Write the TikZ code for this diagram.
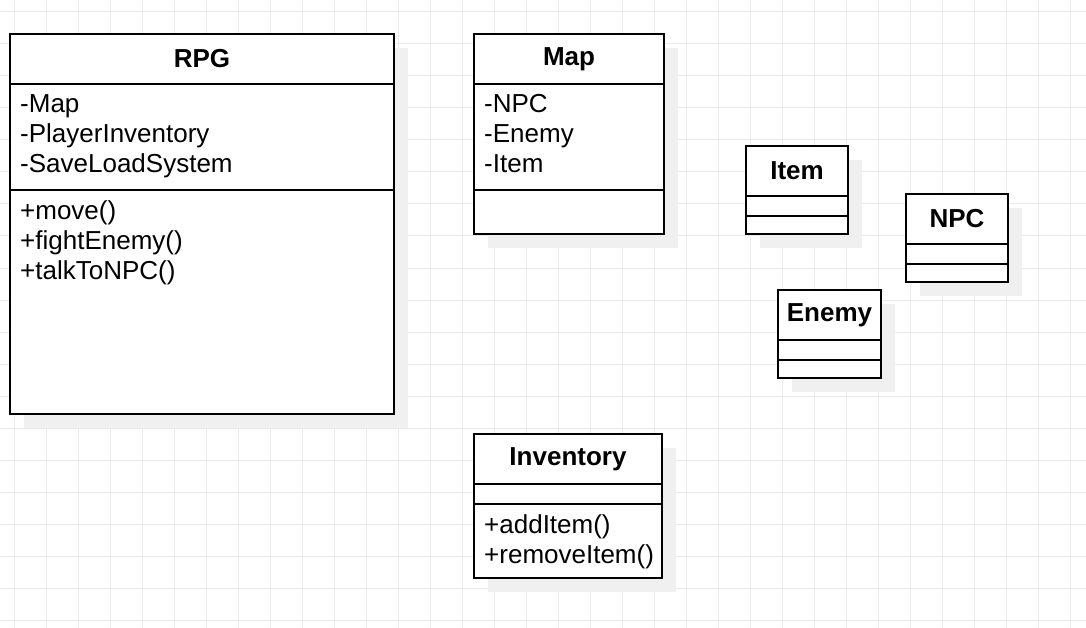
\documentclass[tikz,border=0pt]{standalone}
\usepackage{fontspec}
\setmainfont{Liberation Sans}
\usetikzlibrary{positioning,shadows}

\tikzset{
  gridline/.style={draw=gray!16, line width=1pt},
  part/.style={draw, line width=2pt, fill=white, outer sep=0pt, inner sep=0pt,
    general shadow={fill=gray!12, shadow xshift=14pt, shadow yshift=-14pt}},
  classname/.style={part, minimum height=50, font=\fontsize{26}{30}\selectfont\bfseries},
  members/.style={inner xsep=10pt, inner ysep=0pt, align=left, font=\fontsize{26}{30}\selectfont},
}

\begin{document}
\begin{tikzpicture}[x=1pt, y=-1pt]
    \useasboundingbox (0,0) rectangle (1086,628);
    % background grid
    \foreach \gx in {14,46,...,1070} \draw[gridline] (\gx,0) -- (\gx,628);
    \foreach \gy in {12,44,...,620} \draw[gridline] (0,\gy) -- (1086,\gy);

    % RPG
    \node[classname, minimum width=384, anchor=north west] (rpg) at (10,34) {RPG};
    \node[part, minimum width=384, minimum height=106, below=0pt of rpg] (rpg attr) {};
    \node[part, minimum width=384, minimum height=224, below=0pt of rpg attr] (rpg ops) {};
    \node[members, below right=10pt and 0pt of rpg attr.north west] (rpg attr text)
        {-Map\\-PlayerInventory\\-SaveLoadSystem};
    \node[members, below right=10pt and 0pt of rpg ops.north west] (rpg ops text)
        {+move()\\+fightEnemy()\\+talkToNPC()};

    % Map
    \node[classname, minimum width=190, anchor=north west] (map) at (474,34) {Map};
    \node[part, minimum width=190, minimum height=106, below=0pt of map] (map attr) {};
    \node[part, minimum width=190, minimum height=44, below=0pt of map attr] (map ops) {};
    \node[members, below right=10pt and 0pt of map attr.north west] (map attr text)
        {-NPC\\-Enemy\\-Item};

    % Item
    \node[classname, minimum width=102, anchor=north west] (item) at (746,146) {Item};
    \node[part, minimum width=102, minimum height=20, below=0pt of item] (item attr) {};
    \node[part, minimum width=102, minimum height=18, below=0pt of item attr] (item ops) {};

    % NPC
    \node[classname, minimum width=102, anchor=north west] (npc) at (906,194) {NPC};
    \node[part, minimum width=102, minimum height=20, below=0pt of npc] (npc attr) {};
    \node[part, minimum width=102, minimum height=18, below=0pt of npc attr] (npc ops) {};

    % Enemy
    \node[classname, minimum width=103, anchor=north west] (enemy) at (778,290) {Enemy};
    \node[part, minimum width=103, minimum height=20, below=0pt of enemy] (enemy attr) {};
    \node[part, minimum width=103, minimum height=18, below=0pt of enemy attr] (enemy ops) {};

    % Inventory
    \node[classname, minimum width=188, anchor=north west] (inventory) at (474,434) {Inventory};
    \node[part, minimum width=188, minimum height=20, below=0pt of inventory] (inventory attr) {};
    \node[part, minimum width=188, minimum height=74, below=0pt of inventory attr] (inventory ops) {};
    \node[members, below right=10pt and 0pt of inventory ops.north west] (inventory ops text)
        {+addItem()\\+removeItem()};
\end{tikzpicture}
\end{document}
